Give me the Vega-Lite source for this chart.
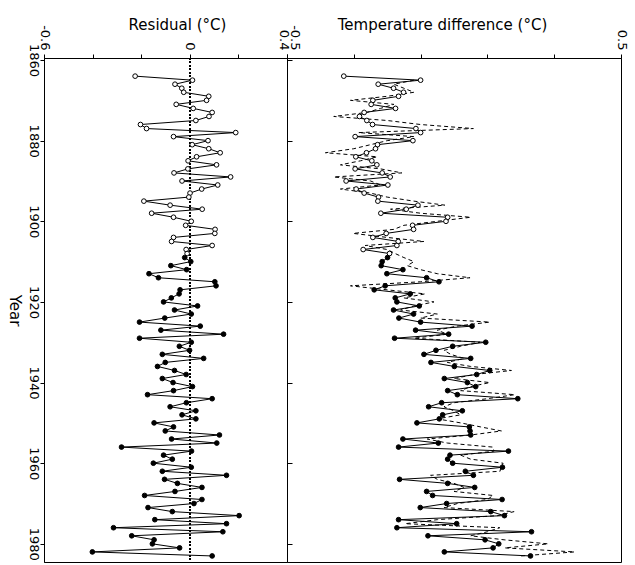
{
"$schema": "https://vega.github.io/schema/vega-lite/v6.json",
"background": "white",
"padding": {"top": 16, "left": 5, "right": 5, "bottom": 5},
"spacing": 0,
"bounds": "flush",
"data": {"values": [
{"year":1864,"res":-0.225,"obs":-0.330,"mod":null,"p":"o"},
{"year":1865,"res":0.011,"obs":-0.100,"mod":-0.12,"p":"o"},
{"year":1866,"res":-0.061,"obs":-0.227,"mod":-0.18,"p":"o"},
{"year":1867,"res":-0.033,"obs":-0.181,"mod":-0.15,"p":"o"},
{"year":1868,"res":-0.025,"obs":-0.151,"mod":-0.12,"p":"o"},
{"year":1869,"res":0.078,"obs":-0.166,"mod":-0.20,"p":"o"},
{"year":1870,"res":0.069,"obs":-0.243,"mod":-0.31,"p":"o"},
{"year":1871,"res":-0.056,"obs":-0.248,"mod":-0.18,"p":"o"},
{"year":1872,"res":0.014,"obs":-0.175,"mod":-0.22,"p":"o"},
{"year":1873,"res":0.092,"obs":-0.269,"mod":-0.26,"p":"o"},
{"year":1874,"res":0.079,"obs":-0.283,"mod":-0.36,"p":"o"},
{"year":1875,"res":0.025,"obs":-0.261,"mod":-0.20,"p":"o"},
{"year":1876,"res":-0.203,"obs":-0.244,"mod":-0.10,"p":"o"},
{"year":1877,"res":-0.178,"obs":-0.114,"mod":0.058,"p":"o"},
{"year":1878,"res":0.189,"obs":-0.100,"mod":-0.286,"p":"o"},
{"year":1879,"res":-0.067,"obs":-0.296,"mod":-0.12,"p":"o"},
{"year":1880,"res":0.075,"obs":-0.123,"mod":-0.20,"p":"o"},
{"year":1881,"res":0.010,"obs":-0.229,"mod":-0.25,"p":"o"},
{"year":1882,"res":0.078,"obs":-0.235,"mod":-0.30,"p":"o"},
{"year":1883,"res":0.125,"obs":-0.262,"mod":-0.385,"p":"o"},
{"year":1884,"res":0.028,"obs":-0.294,"mod":-0.23,"p":"o"},
{"year":1885,"res":-0.007,"obs":-0.246,"mod":-0.28,"p":"o"},
{"year":1886,"res":0.110,"obs":-0.231,"mod":-0.34,"p":"o"},
{"year":1887,"res":-0.008,"obs":-0.296,"mod":-0.22,"p":"o"},
{"year":1888,"res":-0.065,"obs":-0.215,"mod":-0.156,"p":"o"},
{"year":1889,"res":0.168,"obs":-0.191,"mod":-0.36,"p":"o"},
{"year":1890,"res":-0.032,"obs":-0.323,"mod":-0.25,"p":"o"},
{"year":1891,"res":0.115,"obs":-0.198,"mod":-0.22,"p":"o"},
{"year":1892,"res":0.049,"obs":-0.293,"mod":-0.34,"p":"o"},
{"year":1893,"res":0.001,"obs":-0.269,"mod":-0.25,"p":"o"},
{"year":1894,"res":-0.004,"obs":-0.226,"mod":-0.20,"p":"o"},
{"year":1895,"res":-0.189,"obs":-0.228,"mod":-0.12,"p":"o"},
{"year":1896,"res":-0.081,"obs":-0.108,"mod":-0.027,"p":"o"},
{"year":1897,"res":0.051,"obs":-0.143,"mod":-0.19,"p":"o"},
{"year":1898,"res":-0.157,"obs":-0.219,"mod":-0.10,"p":"o"},
{"year":1899,"res":-0.067,"obs":-0.019,"mod":0.05,"p":"o"},
{"year":1900,"res":0.006,"obs":-0.024,"mod":-0.05,"p":"o"},
{"year":1901,"res":-0.017,"obs":-0.124,"mod":-0.15,"p":"o"},
{"year":1902,"res":0.104,"obs":-0.121,"mod":-0.18,"p":"o"},
{"year":1903,"res":0.103,"obs":-0.203,"mod":-0.302,"p":"o"},
{"year":1904,"res":-0.067,"obs":-0.243,"mod":-0.20,"p":"o"},
{"year":1905,"res":-0.075,"obs":-0.167,"mod":-0.09,"p":"o"},
{"year":1906,"res":0.092,"obs":-0.171,"mod":-0.266,"p":"o"},
{"year":1907,"res":-0.015,"obs":-0.272,"mod":-0.20,"p":"o"},
{"year":1908,"res":-0.011,"obs":-0.193,"mod":-0.176,"p":"o"},
{"year":1909,"res":-0.021,"obs":-0.199,"mod":-0.15,"p":"f"},
{"year":1910,"res":0.004,"obs":-0.215,"mod":-0.12,"p":"f"},
{"year":1911,"res":-0.078,"obs":-0.218,"mod":-0.14,"p":"f"},
{"year":1912,"res":-0.013,"obs":-0.153,"mod":-0.10,"p":"f"},
{"year":1913,"res":-0.168,"obs":-0.201,"mod":-0.05,"p":"f"},
{"year":1914,"res":-0.129,"obs":-0.082,"mod":0.048,"p":"f"},
{"year":1915,"res":0.103,"obs":-0.045,"mod":-0.10,"p":"f"},
{"year":1916,"res":0.108,"obs":-0.206,"mod":-0.31,"p":"f"},
{"year":1917,"res":-0.040,"obs":-0.239,"mod":-0.20,"p":"f"},
{"year":1918,"res":-0.044,"obs":-0.131,"mod":-0.087,"p":"f"},
{"year":1919,"res":-0.076,"obs":-0.176,"mod":-0.15,"p":"f"},
{"year":1920,"res":-0.108,"obs":-0.171,"mod":-0.06,"p":"f"},
{"year":1921,"res":0.032,"obs":-0.104,"mod":-0.12,"p":"f"},
{"year":1922,"res":-0.063,"obs":-0.181,"mod":-0.16,"p":"f"},
{"year":1923,"res":0.006,"obs":-0.121,"mod":-0.05,"p":"f"},
{"year":1924,"res":-0.103,"obs":-0.165,"mod":-0.10,"p":"f"},
{"year":1925,"res":-0.207,"obs":-0.100,"mod":0.107,"p":"f"},
{"year":1926,"res":0.043,"obs":0.054,"mod":0.008,"p":"f"},
{"year":1927,"res":-0.119,"obs":-0.115,"mod":-0.05,"p":"f"},
{"year":1928,"res":0.139,"obs":-0.016,"mod":-0.02,"p":"f"},
{"year":1929,"res":-0.207,"obs":-0.178,"mod":-0.12,"p":"f"},
{"year":1930,"res":0.006,"obs":0.095,"mod":0.078,"p":"f"},
{"year":1931,"res":-0.043,"obs":-0.004,"mod":0.02,"p":"f"},
{"year":1932,"res":-0.001,"obs":-0.054,"mod":-0.03,"p":"f"},
{"year":1933,"res":-0.113,"obs":-0.090,"mod":-0.01,"p":"f"},
{"year":1934,"res":0.057,"obs":0.050,"mod":0.03,"p":"f"},
{"year":1935,"res":-0.101,"obs":-0.069,"mod":-0.02,"p":"f"},
{"year":1936,"res":-0.133,"obs":0.001,"mod":0.05,"p":"f"},
{"year":1937,"res":-0.063,"obs":0.107,"mod":0.172,"p":"f"},
{"year":1938,"res":-0.015,"obs":0.068,"mod":0.06,"p":"f"},
{"year":1939,"res":-0.113,"obs":-0.029,"mod":0.00,"p":"f"},
{"year":1940,"res":-0.069,"obs":0.040,"mod":0.107,"p":"f"},
{"year":1941,"res":0.011,"obs":0.065,"mod":0.05,"p":"f"},
{"year":1942,"res":-0.067,"obs":-0.019,"mod":0.02,"p":"f"},
{"year":1943,"res":-0.174,"obs":0.010,"mod":0.182,"p":"f"},
{"year":1944,"res":0.092,"obs":0.191,"mod":0.10,"p":"f"},
{"year":1945,"res":-0.014,"obs":-0.037,"mod":0.00,"p":"f"},
{"year":1946,"res":-0.081,"obs":-0.076,"mod":-0.03,"p":"f"},
{"year":1947,"res":0.025,"obs":0.025,"mod":0.00,"p":"f"},
{"year":1948,"res":-0.032,"obs":-0.034,"mod":0.02,"p":"f"},
{"year":1949,"res":0.025,"obs":-0.044,"mod":-0.05,"p":"f"},
{"year":1950,"res":-0.147,"obs":-0.111,"mod":0.02,"p":"f"},
{"year":1951,"res":-0.067,"obs":0.046,"mod":0.08,"p":"f"},
{"year":1952,"res":-0.101,"obs":0.048,"mod":0.142,"p":"f"},
{"year":1953,"res":0.122,"obs":0.050,"mod":0.05,"p":"f"},
{"year":1954,"res":-0.075,"obs":-0.153,"mod":-0.08,"p":"f"},
{"year":1955,"res":0.111,"obs":-0.047,"mod":-0.02,"p":"f"},
{"year":1956,"res":-0.281,"obs":-0.166,"mod":0.116,"p":"f"},
{"year":1957,"res":0.007,"obs":0.163,"mod":0.12,"p":"f"},
{"year":1958,"res":-0.108,"obs":-0.012,"mod":0.02,"p":"f"},
{"year":1959,"res":-0.072,"obs":-0.019,"mod":0.05,"p":"f"},
{"year":1960,"res":-0.150,"obs":-0.004,"mod":0.147,"p":"f"},
{"year":1961,"res":0.006,"obs":0.145,"mod":0.14,"p":"f"},
{"year":1962,"res":-0.113,"obs":0.034,"mod":0.138,"p":"f"},
{"year":1963,"res":0.151,"obs":0.058,"mod":-0.07,"p":"f"},
{"year":1964,"res":-0.104,"obs":-0.163,"mod":-0.05,"p":"f"},
{"year":1965,"res":-0.051,"obs":-0.019,"mod":0.00,"p":"f"},
{"year":1966,"res":0.050,"obs":0.062,"mod":0.03,"p":"f"},
{"year":1967,"res":-0.061,"obs":-0.082,"mod":0.00,"p":"f"},
{"year":1968,"res":-0.186,"obs":-0.064,"mod":0.117,"p":"f"},
{"year":1969,"res":0.050,"obs":0.144,"mod":0.10,"p":"f"},
{"year":1970,"res":0.017,"obs":-0.022,"mod":0.01,"p":"f"},
{"year":1971,"res":-0.172,"obs":-0.101,"mod":-0.03,"p":"f"},
{"year":1972,"res":-0.072,"obs":0.110,"mod":0.180,"p":"f"},
{"year":1973,"res":0.203,"obs":0.151,"mod":0.13,"p":"f"},
{"year":1974,"res":-0.144,"obs":-0.166,"mod":-0.05,"p":"f"},
{"year":1975,"res":0.151,"obs":0.008,"mod":-0.146,"p":"f"},
{"year":1976,"res":-0.314,"obs":-0.171,"mod":0.137,"p":"f"},
{"year":1977,"res":0.136,"obs":0.232,"mod":0.10,"p":"f"},
{"year":1978,"res":-0.239,"obs":-0.078,"mod":0.05,"p":"f"},
{"year":1979,"res":-0.147,"obs":0.093,"mod":0.15,"p":"f"},
{"year":1980,"res":-0.154,"obs":0.134,"mod":0.282,"p":"f"},
{"year":1981,"res":-0.042,"obs":0.117,"mod":0.152,"p":"f"},
{"year":1982,"res":-0.401,"obs":-0.029,"mod":0.361,"p":"f"},
{"year":1983,"res":0.092,"obs":0.229,"mod":0.20,"p":"f"}
]},
"hconcat": [
{
 "width": 243, "height": 504,
 "layer": [
  {"mark": {"type": "rule", "strokeDash": [1.5, 2], "strokeWidth": 0.8, "color": "black"},
   "encoding": {"x": {"datum": 0, "type": "quantitative", "scale": {"domain": [-0.6, 0.4], "nice": false, "zero": false},
          "axis": {"orient": "top", "title": "Residual (°C)", "values": [-0.6, -0.4, -0.2, 0, 0.2, 0.4], "format": ".1~f",
                   "labelExpr": "abs(datum.value + 0.6) < 0.001 ? '-0.6' : abs(datum.value) < 0.001 ? datum.label : abs(datum.value - 0.4) < 0.001 ? '0.4' : ''",
                   "labelAngle": 90, "labelFlush": false, "labelOverlap": false, "grid": false, "tickSize": 4, "labelPadding": 4,
                   "titleX": 133, "titleY": -29, "titleBaseline": "alphabetic",
                   "labelOffset": {"condition": {"test": "datum.value > 0.3", "value": -4}, "value": 0}}}}},
  {"mark": {"type": "line", "color": "black", "strokeWidth": 1},
   "encoding": {
    "x": {"field": "res", "type": "quantitative",
          "axis": {"orient": "top", "title": "Residual (°C)", "values": [-0.6, -0.4, -0.2, 0, 0.2, 0.4], "format": ".1~f",
                   "labelExpr": "abs(datum.value + 0.6) < 0.001 ? '-0.6' : abs(datum.value) < 0.001 ? datum.label : abs(datum.value - 0.4) < 0.001 ? '0.4' : ''",
                   "labelAngle": 90, "labelFlush": false, "labelOverlap": false, "grid": false, "tickSize": 4, "labelPadding": 4,
                   "titleX": 133, "titleY": -29, "titleBaseline": "alphabetic",
                   "labelOffset": {"condition": {"test": "datum.value > 0.3", "value": -4}, "value": 0}}},
    "y": {"field": "year", "type": "quantitative", "scale": {"domain": [1859.5, 1984.5], "reverse": true, "nice": false, "zero": false},
          "axis": {"values": [1860, 1880, 1900, 1920, 1940, 1960, 1980], "format": "d", "labelAngle": 90, "title": "Year", "titleAngle": 90, "grid": false, "tickSize": 4, "labelPadding": 1, "titlePadding": 20}},
    "order": {"field": "year"}}},
  {"mark": {"type": "point", "filled": true, "stroke": "black", "strokeWidth": 1, "size": 22, "opacity": 1},
   "encoding": {
    "x": {"field": "res", "type": "quantitative"},
    "y": {"field": "year", "type": "quantitative"},
    "fill": {"field": "p", "type": "nominal", "scale": {"domain": ["o", "f"], "range": ["white", "black"]}, "legend": null}}}
 ]
},
{
 "width": 334, "height": 504,
 "layer": [
  {"mark": {"type": "line", "color": "black", "strokeWidth": 1, "strokeDash": [4, 3]},
   "encoding": {
    "x": {"field": "mod", "type": "quantitative", "scale": {"domain": [-0.5, 0.5], "nice": false, "zero": false},
          "axis": {"orient": "top", "title": "Temperature difference (°C)", "values": [-0.5, -0.4, -0.3, -0.2, -0.1, 0, 0.1, 0.2, 0.3, 0.4, 0.5], "format": ".1~f",
                   "labelExpr": "abs(datum.value + 0.5) < 0.001 ? '-0.5' : abs(datum.value) < 0.001 ? datum.label : abs(datum.value - 0.5) < 0.001 ? '0.5' : ''",
                   "labelAngle": 90, "labelFlush": false, "labelOverlap": false, "grid": false, "tickSize": 4, "labelPadding": 4,
                   "titleX": 155, "titleY": -29, "titleBaseline": "alphabetic",
                   "labelOffset": {"condition": {"test": "datum.value < -0.45", "value": 7}, "value": 0}}},
    "y": {"field": "year", "type": "quantitative", "scale": {"domain": [1859.5, 1984.5], "reverse": true, "nice": false, "zero": false},
          "axis": {"values": [1860, 1880, 1900, 1920, 1940, 1960, 1980], "labels": false, "title": null, "grid": false, "tickSize": -5, "domain": false}},
    "order": {"field": "year"}}},
  {"mark": {"type": "line", "color": "black", "strokeWidth": 1},
   "encoding": {
    "x": {"field": "obs", "type": "quantitative"},
    "y": {"field": "year", "type": "quantitative"},
    "order": {"field": "year"}}},
  {"mark": {"type": "point", "filled": true, "stroke": "black", "strokeWidth": 1, "size": 22, "opacity": 1},
   "encoding": {
    "x": {"field": "obs", "type": "quantitative"},
    "y": {"field": "year", "type": "quantitative"},
    "fill": {"field": "p", "type": "nominal", "scale": {"domain": ["o", "f"], "range": ["white", "black"]}, "legend": null}}}
 ]
}
],
"config": {
 "view": {"stroke": "black", "strokeWidth": 1},
 "font": "DejaVu Sans",
 "axis": {"domainColor": "black", "tickColor": "black", "labelColor": "black", "titleColor": "black", "labelFont": "DejaVu Sans", "titleFont": "DejaVu Sans", "labelFontSize": 13, "titleFontSize": 15, "titleFontWeight": "normal"}
}
}
